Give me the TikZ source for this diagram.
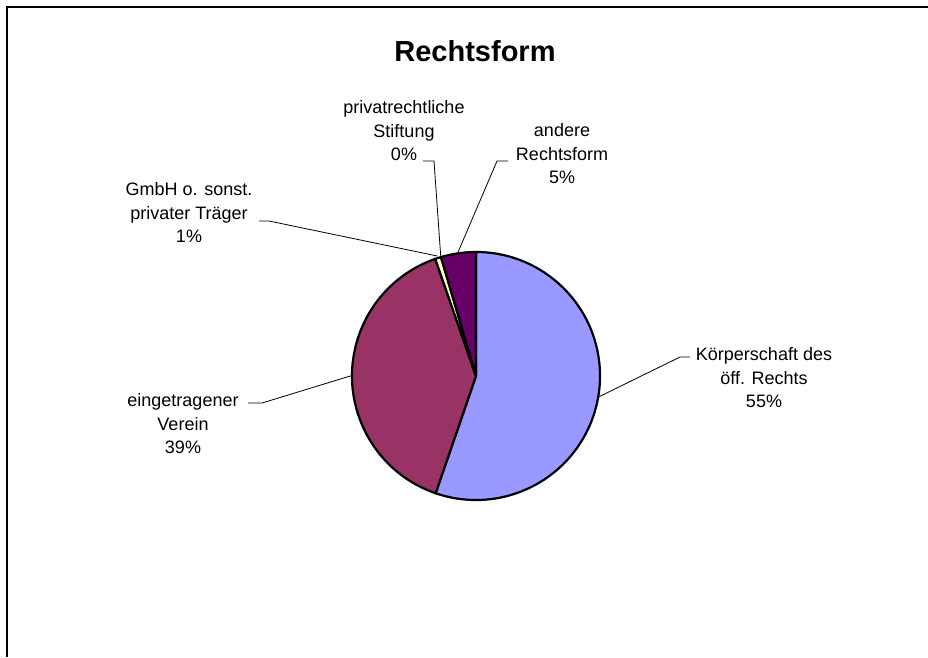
\documentclass[tikz,border=0pt]{standalone}
\usepackage{fontspec}
\setmainfont{Liberation Sans}
\definecolor{kcol}{HTML}{9999FF}
\definecolor{vcol}{HTML}{993366}
\definecolor{gcol}{HTML}{FFFFCC}
\definecolor{acol}{HTML}{660066}
\begin{document}
\begin{tikzpicture}[x=1pt,y=1pt,
  slice/.style={draw=black,line width=2.2pt,line join=round},
  leader/.style={draw=black,line width=0.8pt},
  lbl/.style={align=center,inner sep=0pt,font=\fontsize{18}{23.5}\selectfont},
  ttl/.style={inner sep=0pt,font=\fontsize{29}{34}\selectfont\bfseries}]
\useasboundingbox (0,0) rectangle (928,657);
\fill[white] (0,0) rectangle (928,657);
% frame
\draw[line width=1.2pt] (7,0) -- (7,650) -- (928,650);
% title
\node[ttl,anchor=base] (title) at (475,595) {Rechtsform};
% pie
\coordinate (c) at (476,281);
\filldraw[slice,fill=kcol] (c) -- ([shift={(90:124)}]c) arc[start angle=90,end angle=-109,radius=124] -- cycle;
\filldraw[slice,fill=vcol] (c) -- ([shift={(-109:124)}]c) arc[start angle=-109,end angle=-250.8,radius=124] -- cycle;
\filldraw[slice,fill=gcol] (c) -- ([shift={(-250.8:124)}]c) arc[start angle=-250.8,end angle=-253.6,radius=124] -- cycle;
\filldraw[slice,fill=acol] (c) -- ([shift={(-253.6:124)}]c) arc[start angle=-253.6,end angle=-270,radius=124] -- cycle;
% edge points
\coordinate (kp) at ([shift={(-9.5:125)}]c);
\coordinate (vp) at ([shift={(-180.1:125)}]c);
\coordinate (gp) at ([shift={(107.8:126)}]c);
\coordinate (sp) at ([shift={(106.4:125)}]c);
\coordinate (ap) at ([shift={(98.3:125)}]c);
% labels
\node[lbl] (kl) at (764,279) {Körperschaft des\\öff. Rechts\\55\%};
\node[lbl] (vl) at (183,233) {eingetragener\\Verein\\39\%};
\node[lbl] (gl) at (189,444) {GmbH o. sonst.\\privater Träger\\1\%};
\node[lbl] (sl) at (404,526) {privatrechtliche\\Stiftung\\0\%};
\node[lbl] (al) at (562,503) {andere\\Rechtsform\\5\%};
% leader bends
\coordinate (kb) at (680,300);
\coordinate (ke) at (690,300);
\coordinate (vb) at (262,254);
\coordinate (ve) at (248,254);
\coordinate (gb) at (269,436);
\coordinate (ge) at (259,436);
\coordinate (sb) at (434,496);
\coordinate (se) at (423,496);
\coordinate (ab) at (497,496);
\coordinate (ae) at (508,496);
\draw[leader] (kp) -- (kb) -- (ke);
\draw[leader] (vp) -- (vb) -- (ve);
\draw[leader] (gp) -- (gb) -- (ge);
\draw[leader] (sp) -- (sb) -- (se);
\draw[leader] (ap) -- (ab) -- (ae);
\end{tikzpicture}
\end{document}
